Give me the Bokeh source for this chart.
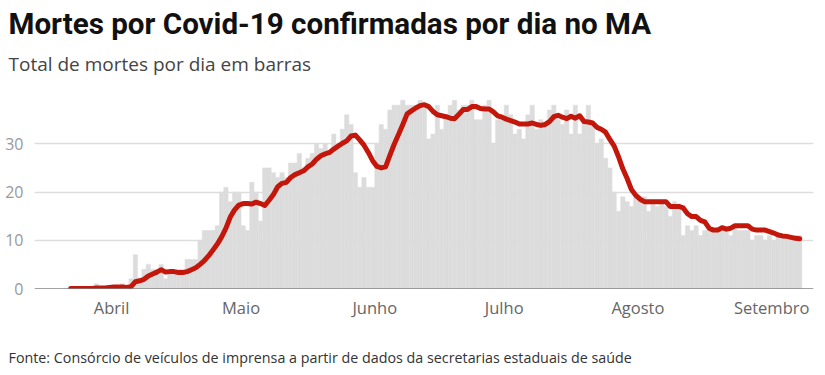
from bokeh.plotting import figure
from bokeh.models import Range1d, FixedTicker, Span, ColumnDataSource, Title
from bokeh.embed import file_html
from bokeh.resources import INLINE

# Day index 0 = 22 Mar 2020
month_ticks = [10, 40, 71, 101, 132, 163]
month_labels = ["Abril", "Maio", "Junho", "Julho", "Agosto", "Setembro"]
y_ticks = [0, 10, 20, 30]

daily_deaths = [
    0, 0, 0, 0, 0, 0, 1, 0, 0, 0,
    0, 0, 1, 0, 2, 7, 2, 4, 5, 4,
    4, 5, 2, 4, 3, 4, 4, 6, 6, 6,
    10, 12, 12, 12, 13, 20, 21, 18, 20, 20,
    13, 12, 22, 20, 14, 25, 25, 24, 23, 24,
    23, 26, 26, 28, 25, 27, 28, 30, 29, 30,
    28, 32, 30, 33, 36, 34, 24, 21, 23, 21,
    21, 30, 34, 33, 37, 38, 38, 39, 38, 38,
    38, 39, 38, 31, 32, 38, 33, 36, 38, 39,
    37, 38, 38, 39, 35, 35, 38, 39, 30, 35,
    35, 38, 36, 32, 33, 31, 36, 38, 33, 35,
    34, 37, 38, 35, 34, 37, 32, 38, 32, 35,
    38, 34, 30, 31, 27, 25, 20, 16, 19, 18,
    17, 19, 18, 19, 16, 18, 17, 18, 17, 15,
    18, 17, 11, 13, 12, 13, 11, 12, 12, 12,
    12, 12, 12, 11, 13, 12, 12, 12, 10, 11,
    11, 10, 11, 10, 11, 11, 11, 11, 11, 11,
]

moving_avg = [
    0, 0, 0, 0, 0, 0, 0.1, 0.1, 0.1, 0.2,
    0.3, 0.3, 0.3, 0.2, 0.4, 1.4, 1.6, 1.9, 2.6, 3.0,
    3.4, 3.9, 3.4, 3.5, 3.5, 3.3, 3.3, 3.5, 3.9, 4.3,
    5.0, 5.8, 6.8, 8.0, 9.2, 10.7, 12.5, 14.8, 16.3, 17.3,
    17.6, 17.6, 17.5, 17.9, 17.6, 17.2, 18.3, 19.5, 21.1, 21.8,
    22.0, 23.0, 23.6, 24.0, 24.4, 25.2, 25.8, 26.8, 27.5, 27.9,
    28.2, 28.9, 29.5, 30.1, 30.6, 31.6, 31.8, 30.8, 29.7, 28.2,
    26.5, 25.3, 25.0, 25.2, 27.6, 29.9, 31.9, 34.0, 36.2, 36.8,
    37.4, 37.9, 38.1, 37.7, 36.7, 36.0, 35.8, 35.6, 35.3, 35.2,
    36.1, 37.1, 37.1, 37.7, 37.7, 37.3, 37.2, 37.2, 36.6, 35.8,
    35.5, 35.1, 34.8, 34.5, 34.1, 34.1, 34.1, 34.3, 34.0, 33.8,
    34.0, 34.6, 35.6, 35.9, 35.5, 35.2, 35.7, 35.3, 35.8, 34.6,
    34.5, 34.3, 33.4, 33.0, 32.4, 30.9, 29.5, 27.3, 24.8, 22.8,
    20.5, 19.3, 18.5, 18.0, 18.0, 18.0, 18.0, 18.0, 18.0, 17.0,
    17.0, 17.0, 16.7, 15.5, 14.9, 14.9, 14.1, 13.8, 12.5, 12.1,
    12.1, 12.6, 12.3, 12.5, 13.0, 13.0, 13.0, 13.0, 12.3, 12.1,
    12.1, 12.1, 11.8, 11.5, 11.1, 10.9, 10.8, 10.6, 10.4, 10.3,
]

title_text = "Mortes por Covid-19 confirmadas por dia no MA"
subtitle_text = "Total de mortes por dia em barras"
source_text = "Fonte: Consórcio de veículos de imprensa a partir de dados da secretarias estaduais de saúde"

days = list(range(len(daily_deaths)))
centers = [d + 0.5 for d in days]
src = ColumnDataSource(dict(x=centers, deaths=daily_deaths, ma=moving_avg))

p = figure(width=825, height=375, output_backend="svg", toolbar_location=None, title=None,
           x_range=Range1d(-7.88, 172.7), y_range=Range1d(0, 40),
           min_border_left=34, min_border_right=12, min_border_top=95, min_border_bottom=87)
p.outline_line_color = None
p.background_fill_color = "white"
p.border_fill_color = "white"

p.xgrid.visible = False
p.ygrid.ticker = FixedTicker(ticks=[10, 20, 30])
p.ygrid.grid_line_color = "#dddddd"
p.ygrid.grid_line_width = 1.5

p.vbar(x="x", top="deaths", width=1, source=src, fill_color="#dcdcdc",
       line_color="#dcdcdc", line_width=0.5)
p.line(x="x", y="ma", source=src, line_color="#c4170c", line_width=5,
       line_cap="round", line_join="round")

p.add_layout(Span(location=0, dimension="width", line_color="#444444", line_width=1.2))

ya = p.yaxis[0]
ya.ticker = FixedTicker(ticks=y_ticks)
ya.axis_line_color = None
ya.major_tick_line_color = None
ya.minor_tick_line_color = None
ya.major_label_text_color = "#999999"
ya.major_label_text_font = "Open Sans"
ya.major_label_text_font_size = "16px"
ya.major_label_standoff = 5

xa = p.xaxis[0]
xa.ticker = FixedTicker(ticks=month_ticks)
xa.major_label_overrides = {t: l for t, l in zip(month_ticks, month_labels)}
xa.axis_line_color = None
xa.major_tick_line_color = None
xa.minor_tick_line_color = None
xa.major_label_text_color = "#666666"
xa.major_label_text_font = "Open Sans"
xa.major_label_text_font_size = "16.5px"
xa.major_label_standoff = 1
# invisible spacer below the month labels, pushes the source line down
xa.axis_label = " "
xa.axis_label_text_font_size = "1px"
xa.axis_label_standoff = 14

sub = Title(text=subtitle_text, text_font="Open Sans", text_font_size="19px",
            text_font_style="normal", text_color="#444444", align="left", offset=-26,
            standoff=37)
main = Title(text=title_text, text_font="Roboto", text_font_size="29.6px",
             text_font_style="bold", text_color="#111111", align="left", offset=-26,
             standoff=-20)
p.add_layout(sub, "above")
p.add_layout(main, "above")

foot = Title(text=source_text, text_font="Open Sans", text_font_size="14.3px",
             text_font_style="normal", text_color="#333333", align="left", offset=-26,
             standoff=13)
p.add_layout(foot, "below")

open("out.html", "w").write(file_html(p, INLINE))
